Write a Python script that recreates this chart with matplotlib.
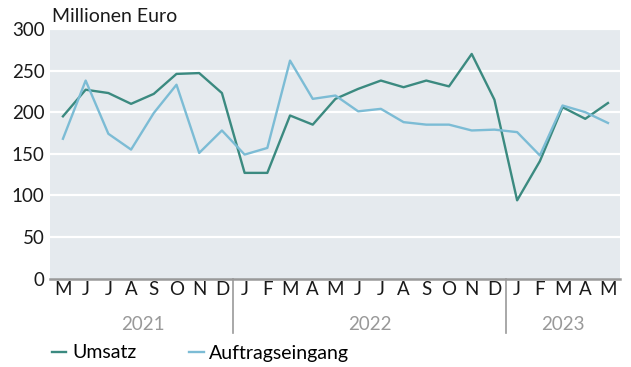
import matplotlib
matplotlib.use("Agg")
import matplotlib.pyplot as plt
import matplotlib.transforms as mtransforms
from matplotlib.lines import Line2D

plt.rcParams['font.family'] = ['Lato', 'DejaVu Sans']

months = ['M', 'J', 'J', 'A', 'S', 'O', 'N', 'D',
          'J', 'F', 'M', 'A', 'M', 'J', 'J', 'A', 'S', 'O', 'N', 'D',
          'J', 'F', 'M', 'A', 'M']
years = ['2021', '2022', '2023']
year_spans = [(0, 7), (8, 19), (20, 24)]

umsatz = [195, 227, 223, 210, 222, 246, 247, 223,
          127, 127, 196, 185, 216, 228, 238, 230, 238, 231, 270, 215,
          94, 141, 206, 192, 211]
auftragseingang = [168, 238, 174, 155, 199, 233, 151, 178,
                   149, 157, 262, 216, 220, 201, 204, 188, 185, 185, 178, 179,
                   176, 148, 208, 200, 187]

c_umsatz = '#3b8a80'
c_auftrag = '#7cbcd5'
bg = '#e5eaee'
grey = '#999999'
fs = 13.5

fig = plt.figure(figsize=(6.31, 3.67), dpi=100)
ax = fig.add_axes([50 / 631, 1 - 278.5 / 367, 570 / 631, 249.5 / 367])
ax.set_facecolor(bg)

x = list(range(len(months)))
ax.plot(x, umsatz, color=c_umsatz, lw=1.7, zorder=3)
ax.plot(x, auftragseingang, color=c_auftrag, lw=1.7, zorder=3)

ax.set_ylim(0, 300)
ax.set_xlim(-0.57, 24.53)
ax.set_yticks(range(0, 301, 50))
for v in range(50, 301, 50):
    ax.axhline(v, color='white', lw=1.6, zorder=1)

for s in ['top', 'right', 'left']:
    ax.spines[s].set_visible(False)
ax.spines['bottom'].set_color(grey)
ax.spines['bottom'].set_linewidth(1.8)

ax.set_xticks(x)
ax.set_xticklabels(months)
ax.tick_params(axis='both', length=0, labelsize=fs, colors='#1a1a1a')
ax.tick_params(axis='x', pad=2)
ax.tick_params(axis='y', pad=4)

trans = mtransforms.blended_transform_factory(ax.transData, ax.transAxes)
for sep in [7.5, 19.5]:
    ax.plot([sep, sep], [0, -0.22], transform=trans, color=grey, lw=1.2,
            clip_on=False)
for label, (a, b) in zip(years, year_spans):
    ax.text((a + b) / 2, -0.185, label, transform=trans, ha='center',
            va='center', fontsize=fs, color=grey)

fig.text(52 / 631, 1 - 16 / 367, 'Millionen Euro', ha='left', va='center',
         fontsize=14, color='#1a1a1a')

handles = [Line2D([], [], color=c_umsatz, lw=1.7),
           Line2D([], [], color=c_auftrag, lw=1.7)]
fig.legend(handles, ['Umsatz', 'Auftragseingang'], loc='center left',
           bbox_to_anchor=(44 / 631, 1 - 353 / 367), ncol=2, frameon=False,
           fontsize=14, handlelength=0.75, handletextpad=0.3,
           columnspacing=2.7, borderaxespad=0)

fig.savefig('out.png', dpi=100)
